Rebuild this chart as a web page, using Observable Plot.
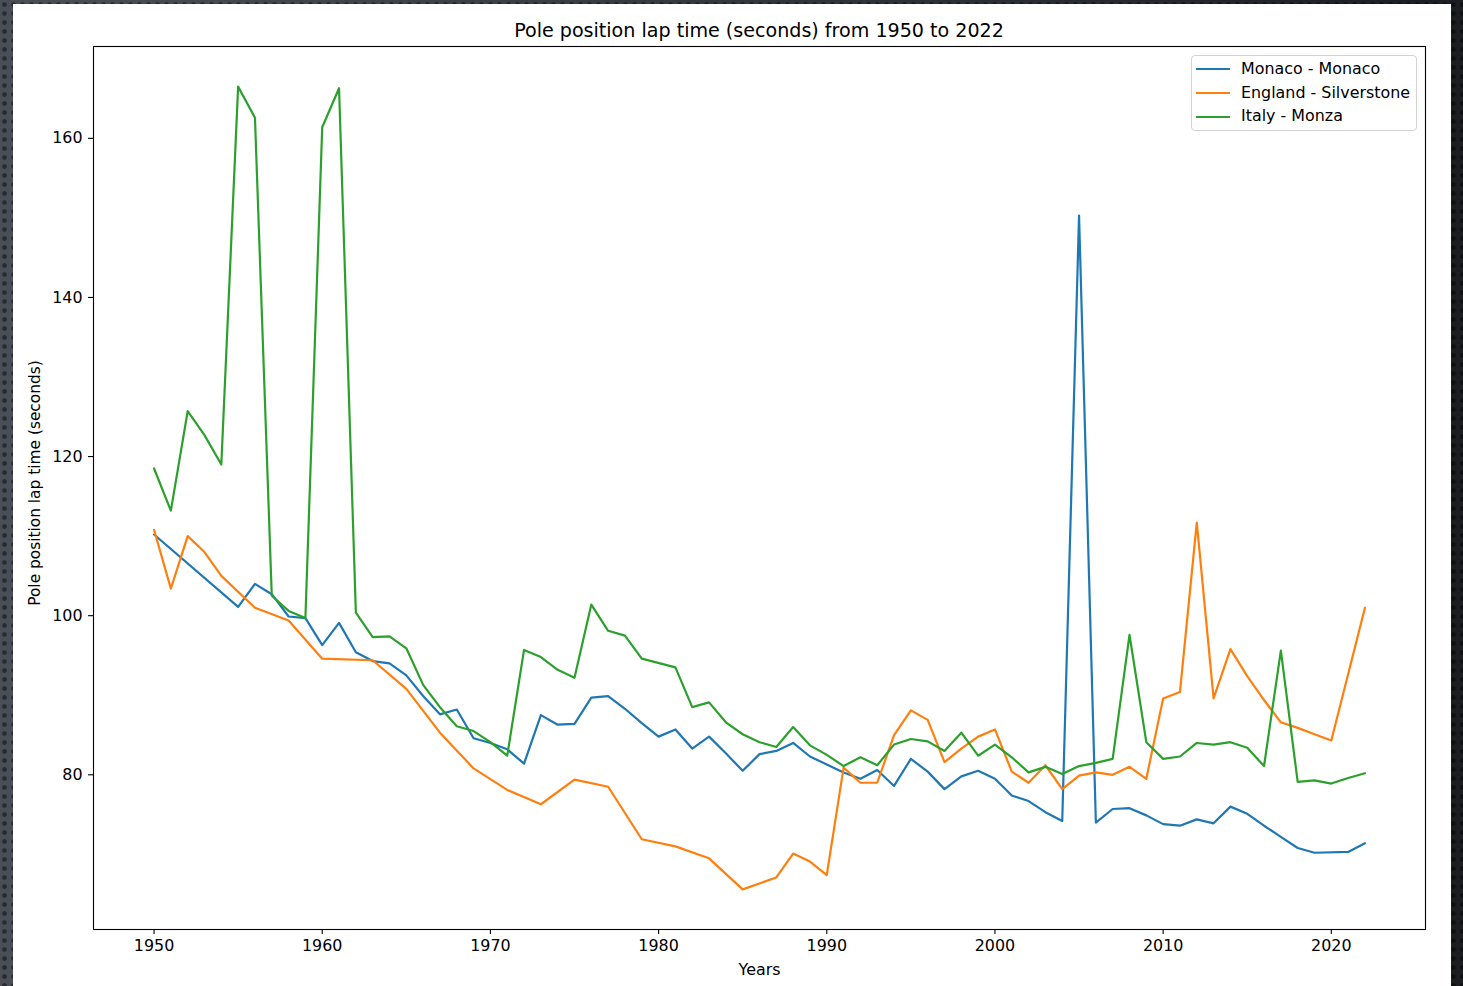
<!DOCTYPE html>
<html>
<head>
<meta charset="utf-8">
<script src="https://cdn.jsdelivr.net/npm/d3@7"></script>
<script src="https://cdn.jsdelivr.net/npm/@observablehq/plot@0.6"></script>
<style>
  html, body { margin: 0; padding: 0; }
  body {
    width: 1463px; height: 986px; overflow: hidden; position: relative;
    background:
      radial-gradient(circle at 50% 50%, rgba(0,0,0,0.45) 28%, rgba(0,0,0,0) 46%) 0 0 / 9px 9px,
      linear-gradient(90deg, #4a4e56 0%, #3a3e45 35%, #1b1d21 100%);
    font-family: "DejaVu Sans", sans-serif;
  }
  #sheet { position: absolute; left: 13px; top: 4px; width: 1438px; height: 990px; background: #fff; }
  #title { position: absolute; left: 759px; top: 20px; transform: translateX(-50%);
    font-size: 19.1px; line-height: 22px; color: #000; white-space: nowrap; }
  #chart { position: absolute; left: 13px; top: 40px; }
  #legend { position: absolute; left: 1191px; top: 55px; width: 224px; height: 74px;
    border: 1px solid #d3d3d3; border-radius: 4px; background: rgba(255,255,255,0.8); }
  .row { position: absolute; left: 0; height: 24px; line-height: 24px; font-size: 15.9px; color: #000; white-space: nowrap; }
  .sw { display: inline-block; width: 34px; height: 2px; margin-left: 4px; margin-right: 11px; vertical-align: middle; }
</style>
</head>
<body>
<div id="sheet"></div>
<div id="title"></div>
<div id="chart"></div>
<div id="legend"></div>
<script>
// ---- data ----
const chartTitle = "Pole position lap time (seconds) from 1950 to 2022";
const xLabel = "Years";
const yLabel = "Pole position lap time (seconds)";
const seriesNames = ["Monaco - Monaco", "England - Silverstone", "Italy - Monza"];
const seriesColors = ["#1f77b4", "#ff7f0e", "#2ca02c"];
const xTicks = [1950, 1960, 1970, 1980, 1990, 2000, 2010, 2020];
const yTicks = [80, 100, 120, 140, 160];

const years = [
  1950,1951,1952,1953,1954,1955,1956,1957,1958,1959,
  1960,1961,1962,1963,1964,1965,1966,1967,1968,1969,
  1970,1971,1972,1973,1974,1975,1976,1977,1978,1979,
  1980,1981,1982,1983,1984,1985,1986,1987,1988,1989,
  1990,1991,1992,1993,1994,1995,1996,1997,1998,1999,
  2000,2001,2002,2003,2004,2005,2006,2007,2008,2009,
  2010,2011,2012,2013,2014,2015,2016,2017,2018,2019,
  2020,2021,2022
];

const monaco = [
  110.2,null,null,null,null,101.1,104.0,102.7,99.9,99.7,
  96.3,99.1,95.4,94.3,94.0,92.5,89.9,87.6,88.2,84.6,
  84.0,83.2,81.4,87.5,86.3,86.4,89.7,89.9,88.3,86.5,
  84.8,85.7,83.3,84.8,82.7,80.5,82.6,83.0,84.0,82.3,
  81.3,80.3,79.5,80.6,78.6,82.0,80.4,78.2,79.8,80.5,
  79.5,77.4,76.7,75.3,74.2,150.3,74.0,75.7,75.8,74.9,
  73.8,73.6,74.4,73.9,76.0,75.1,73.6,72.2,70.8,70.2,
  null,70.3,71.4
];

const silverstone = [
  110.8,103.4,110.0,108.0,105.0,null,101.0,null,99.4,null,
  94.6,null,null,94.4,null,90.8,null,85.3,null,80.8,
  null,78.1,null,76.3,null,79.4,null,78.5,null,71.9,
  null,71.0,null,69.5,null,65.6,null,67.1,70.1,69.1,
  67.4,80.9,79.0,79.0,85.0,88.1,86.9,81.6,83.3,84.8,
  85.7,80.4,79.0,81.2,78.2,79.9,80.3,80.0,81.0,79.5,
  89.6,90.4,111.7,89.6,95.8,92.4,89.4,86.6,85.9,85.1,
  84.3,null,101.0
];

const monza = [
  118.5,113.2,125.7,122.7,119.0,166.5,162.6,102.5,100.6,99.7,
  161.4,166.3,100.4,97.3,97.4,95.9,91.3,88.5,86.1,85.5,
  84.1,82.4,95.7,94.8,93.2,92.2,101.4,98.1,97.5,94.6,
  null,93.5,88.5,89.1,86.6,85.1,84.1,83.5,86.0,83.7,
  82.5,81.1,82.2,81.2,83.8,84.5,84.2,83.0,85.3,82.4,
  83.8,82.2,80.3,81.0,80.1,81.1,81.5,82.0,97.6,84.1,
  82.0,82.3,84.0,83.8,84.1,83.4,81.1,95.6,79.1,79.3,
  78.9,79.6,80.2
];

// ---- build table ----
const seriesValues = [monaco, silverstone, monza];
const rows = [];
seriesNames.forEach((name, i) => {
  years.forEach((yr, j) => {
    const v = seriesValues[i][j];
    if (v != null) rows.push({year: yr, time: v, series: name});
  });
});

// matplotlib-style 5% auto margins
const xMin = d3.min(years), xMax = d3.max(years);
const xPad = (xMax - xMin) * 0.05;
const yMin = d3.min(rows, d => d.time), yMax = d3.max(rows, d => d.time);
const yPad = (yMax - yMin) * 0.05;

const fs = 15.9;

const chart = Plot.plot({
  width: 1438,
  height: 946,
  marginLeft: 80,
  marginRight: 26,
  marginTop: 6,
  marginBottom: 57,
  style: {fontFamily: "DejaVu Sans", fontSize: fs + "px", color: "#000", background: "transparent", overflow: "visible"},
  x: {domain: [xMin - xPad, xMax + xPad]},
  y: {domain: [yMin - yPad, yMax + yPad]},
  color: {domain: seriesNames, range: seriesColors},
  marks: [
    Plot.line(rows, {x: "year", y: "time", z: "series", stroke: "series", strokeWidth: 2.2, strokeLinejoin: "round"}),
    Plot.frame({stroke: "#000", strokeWidth: 1.1}),
    Plot.axisX({ticks: xTicks, tickFormat: "d", tickSize: 5, tickPadding: 5, label: null, strokeWidth: 1.1, fontSize: fs}),
    Plot.axisY({ticks: yTicks, tickFormat: "d", tickSize: 5, tickPadding: 6, label: null, strokeWidth: 1.1, fontSize: fs}),
    Plot.text([yLabel], {text: d => d, frameAnchor: "left", dx: -58, dy: -5, rotate: -90, fontSize: 15.4, textAnchor: "middle", lineAnchor: "middle", fill: "#000"}),
    Plot.text([xLabel], {text: d => d, frameAnchor: "bottom", dy: 40, fontSize: fs, textAnchor: "middle", lineAnchor: "middle", fill: "#000"})
  ]
});
document.getElementById("chart").appendChild(chart);
document.getElementById("title").textContent = chartTitle;

// ---- legend ----
const legend = document.getElementById("legend");
seriesNames.forEach((name, i) => {
  const row = document.createElement("div");
  row.className = "row";
  row.style.top = (0.7 + i * 23.85) + "px";
  const sw = document.createElement("span");
  sw.className = "sw";
  sw.style.background = seriesColors[i];
  row.appendChild(sw);
  row.appendChild(document.createTextNode(name));
  legend.appendChild(row);
});
</script>
</body>
</html>
